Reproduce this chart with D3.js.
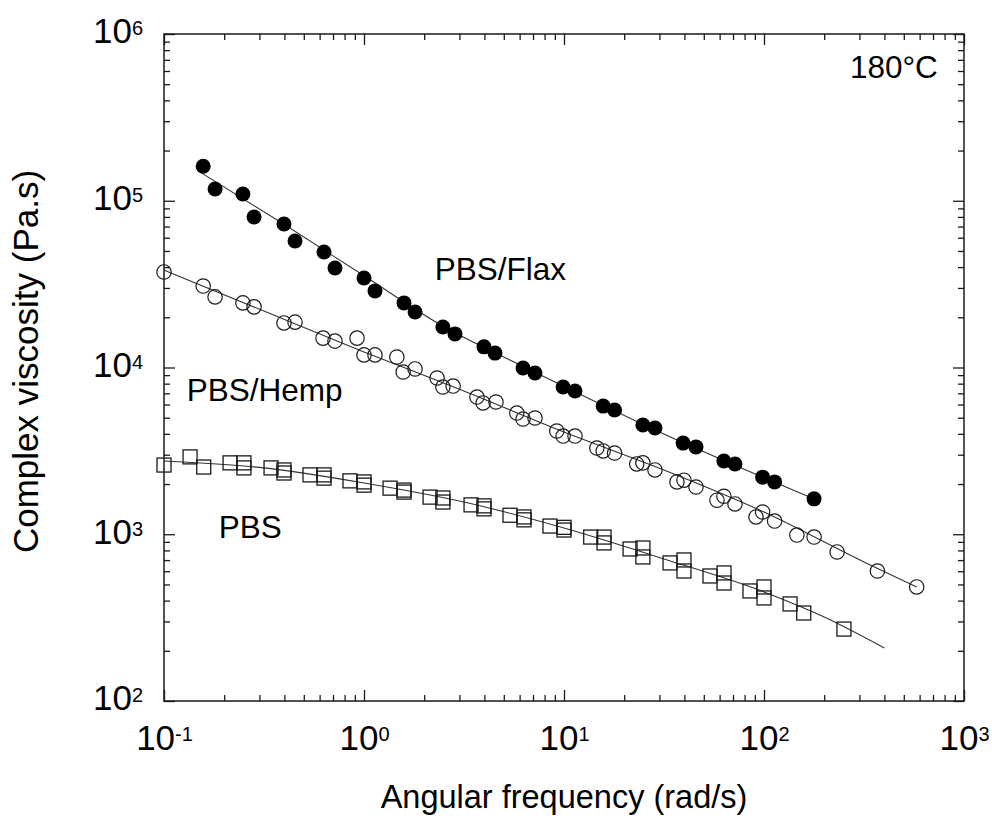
<!DOCTYPE html>
<html>
<head>
<meta charset="utf-8">
<script src="https://cdn.jsdelivr.net/npm/d3@7"></script>
<style>
  body { margin: 0; background: #fff; }
</style>
</head>
<body>
<div id="chart"></div>
<script>
// ---- data ----
// PBS/Flax (filled circles)
const flaxFreq = [0.157, 0.18, 0.248, 0.282, 0.398, 0.452, 0.631, 0.716, 1.0, 1.135,
  1.585, 1.8, 2.48, 2.85, 3.98, 4.52, 6.24, 7.16, 9.9, 11.35,
  15.7, 17.9, 24.8, 28.5, 39.4, 45.7, 63, 71.6, 98.4, 113, 178];
const flaxVisc = [161000, 117600, 109700, 79900, 72500, 57400, 49300, 39500, 34400, 28800,
  24400, 21500, 17500, 15900, 13300, 12200, 9930, 9270, 7640, 7230,
  5870, 5560, 4520, 4340, 3520, 3340, 2750, 2640, 2200, 2060, 1630];

// PBS/Hemp (open circles)
const hempFreq = [0.1, 0.157, 0.18, 0.248, 0.282, 0.398, 0.452, 0.624, 0.716, 0.923,
  1.0, 1.135, 1.46, 1.57, 1.8, 2.32, 2.48, 2.79, 3.67, 3.94,
  4.57, 5.81, 6.24, 7.16, 9.2, 9.9, 11.35, 14.6, 15.7, 17.9,
  23.1, 24.8, 28.5, 36.7, 39.8, 45.7, 58.2, 63, 71.6, 91.2,
  98.4, 113, 146, 178, 232, 369, 580];
const hempVisc = [37400, 30800, 26500, 24400, 23100, 18500, 18700, 15000, 14400, 15000,
  11900, 11900, 11560, 9400, 9800, 8650, 7640, 7740, 6650, 6130,
  6210, 5330, 4910, 4980, 4160, 3880, 3880, 3290, 3160, 3070,
  2640, 2680, 2430, 2060, 2110, 1920, 1600, 1690, 1520, 1270,
  1360, 1200, 989, 962, 783, 602, 483];

// PBS (open squares)
const pbsFreq = [0.1, 0.135, 0.158, 0.214, 0.251, 0.251, 0.343, 0.398, 0.398, 0.537,
  0.631, 0.631, 0.851, 1.0, 1.0, 1.35, 1.585, 1.585, 2.14, 2.48,
  2.48, 3.43, 3.98, 3.98, 5.37, 6.31, 6.31, 8.51, 10, 10,
  13.6, 15.85, 15.85, 21.4, 24.8, 24.8, 33.9, 39.8, 39.8, 53.7,
  63.1, 63.1, 85.1, 100, 100, 135, 158, 251];
const pbsVisc = [2600, 2910, 2530, 2680, 2680, 2500, 2500, 2430, 2330, 2270,
  2270, 2170, 2090, 2060, 1970, 1890, 1840, 1790, 1670, 1650,
  1560, 1500, 1480, 1420, 1300, 1270, 1220, 1120, 1100, 1060,
  962, 962, 887, 816, 827, 731, 673, 701, 602, 562,
  586, 510, 457, 483, 415, 382, 337, 270];

// fitted curves (thin lines), sampled from the figure
const flaxFitFreq = [0.155, 0.4, 1, 2.5, 6.3, 15.8, 39.8, 100, 178];
const flaxFitVisc = [146000, 72000, 35500, 17600, 10100, 5900, 3520, 2180, 1630];
const hempFitFreq = [0.1, 0.316, 1, 3.16, 10, 31.6, 100, 316, 580];
const hempFitVisc = [38400, 21800, 12400, 7230, 4100, 2430, 1360, 682, 483];
const pbsFitFreq = [0.1, 0.316, 1, 3.16, 10, 31.6, 100, 200, 400];
const pbsFitVisc = [2750, 2500, 2030, 1560, 1090, 711, 451, 319, 208];

// axes ticks and labels
const xMajor = [0.1, 1, 10, 100, 1000];
const yMajor = [100, 1000, 10000, 100000, 1000000];
const xTitle = "Angular frequency (rad/s)";
const yTitle = "Complex viscosity (Pa.s)";

// annotations: [text, freq, viscosity]
const labels = [
  ["PBS/Flax", 2.26, 33500],
  ["PBS/Hemp", 0.13, 6300],
  ["PBS", 0.188, 949],
  ["180°C", 269, 545000]
];

/**
 * Proportions
 */
let svgWidth = 992;
let svgHeight = 819;
let plotLeft = 164, plotRight = 964, plotTop = 34, plotBottom = 701;
let majorLen = 11, minorLen = 6;
let font = "Arial, 'Liberation Sans', sans-serif";
let ink = "#1a1a1a";

const x = d3.scaleLog().domain([0.1, 1000]).range([plotLeft, plotRight]);
const y = d3.scaleLog().domain([100, 1e6]).range([plotBottom, plotTop]);

const xMinor = x.ticks().filter(d => !xMajor.some(m => Math.abs(m - d) / m < 1e-6));
const yMinor = y.ticks().filter(d => !yMajor.some(m => Math.abs(m - d) / m < 1e-6));

const svg = d3.select("#chart")
  .append("svg")
  .attr("width", svgWidth)
  .attr("height", svgHeight)
  .style("background", "#fff");

// exponent label: "10" + superscript
function powerLabel(textSel, raise) {
  textSel.text(null);
  textSel.append("tspan").text("10");
  textSel.append("tspan")
    .attr("dy", raise)
    .attr("font-size", 20)
    .text(d => String(Math.round(Math.log10(d))));
}

function styleAxis(g) {
  g.select(".domain").remove();
  g.selectAll(".tick line").attr("stroke", ink).attr("stroke-width", 1.3);
  g.attr("font-family", font).attr("font-size", 35);
  g.selectAll(".tick text").attr("fill", "#000");
}

// bottom
svg.append("g")
  .attr("transform", `translate(0,${plotBottom})`)
  .call(d3.axisBottom(x).tickValues(xMajor).tickSizeInner(-majorLen).tickSizeOuter(0).tickPadding(24))
  .call(styleAxis)
  .call(g => g.selectAll(".tick text").call(powerLabel, "-0.45em"));
svg.append("g")
  .attr("transform", `translate(0,${plotBottom})`)
  .call(d3.axisBottom(x).tickValues(xMinor).tickSizeInner(-minorLen).tickSizeOuter(0).tickFormat(""))
  .call(styleAxis);

// top
svg.append("g")
  .attr("transform", `translate(0,${plotTop})`)
  .call(d3.axisTop(x).tickValues(xMajor).tickSizeInner(-majorLen).tickSizeOuter(0).tickFormat(""))
  .call(styleAxis);
svg.append("g")
  .attr("transform", `translate(0,${plotTop})`)
  .call(d3.axisTop(x).tickValues(xMinor).tickSizeInner(-minorLen).tickSizeOuter(0).tickFormat(""))
  .call(styleAxis);

// left
svg.append("g")
  .attr("transform", `translate(${plotLeft},0)`)
  .call(d3.axisLeft(y).tickValues(yMajor).tickSizeInner(-majorLen).tickSizeOuter(0).tickPadding(21))
  .call(styleAxis)
  .call(g => g.selectAll(".tick text").attr("dy", "0.25em").call(powerLabel, "-0.4em"));
svg.append("g")
  .attr("transform", `translate(${plotLeft},0)`)
  .call(d3.axisLeft(y).tickValues(yMinor).tickSizeInner(-minorLen).tickSizeOuter(0).tickFormat(""))
  .call(styleAxis);

// right
svg.append("g")
  .attr("transform", `translate(${plotRight},0)`)
  .call(d3.axisRight(y).tickValues(yMajor).tickSizeInner(-majorLen).tickSizeOuter(0).tickFormat(""))
  .call(styleAxis);
svg.append("g")
  .attr("transform", `translate(${plotRight},0)`)
  .call(d3.axisRight(y).tickValues(yMinor).tickSizeInner(-minorLen).tickSizeOuter(0).tickFormat(""))
  .call(styleAxis);

// frame
svg.append("rect")
  .attr("x", plotLeft)
  .attr("y", plotTop)
  .attr("width", plotRight - plotLeft)
  .attr("height", plotBottom - plotTop)
  .attr("fill", "none")
  .attr("stroke", ink)
  .attr("stroke-width", 1.5);

// axis titles
svg.append("text")
  .attr("x", (plotLeft + plotRight) / 2)
  .attr("y", 808)
  .attr("text-anchor", "middle")
  .attr("font-family", font)
  .attr("font-size", 32.5)
  .text(xTitle);
svg.append("text")
  .attr("transform", `translate(38,${(plotTop + plotBottom) / 2 - 6}) rotate(-90)`)
  .attr("text-anchor", "middle")
  .attr("font-family", font)
  .attr("font-size", 35)
  .text(yTitle);

// fit lines
const fitLine = d3.line()
  .x(d => x(d[0]))
  .y(d => y(d[1]))
  .curve(d3.curveMonotoneX);

const fits = [
  [flaxFitFreq, flaxFitVisc],
  [hempFitFreq, hempFitVisc],
  [pbsFitFreq, pbsFitVisc]
];
svg.append("g")
  .selectAll("path")
  .data(fits)
  .join("path")
  .attr("d", d => fitLine(d[0].map((f, i) => [f, d[1][i]])))
  .attr("fill", "none")
  .attr("stroke", "#333")
  .attr("stroke-width", 1.1);

// markers
const flaxData = flaxFreq.map((f, i) => [f, flaxVisc[i]]);
const hempData = hempFreq.map((f, i) => [f, hempVisc[i]]);
const pbsData = pbsFreq.map((f, i) => [f, pbsVisc[i]]);

svg.append("g")
  .selectAll("rect")
  .data(pbsData)
  .join("rect")
  .attr("x", d => x(d[0]) - 7)
  .attr("y", d => y(d[1]) - 7)
  .attr("width", 14)
  .attr("height", 14)
  .attr("fill", "none")
  .attr("stroke", ink)
  .attr("stroke-width", 1.3);

svg.append("g")
  .selectAll("circle")
  .data(hempData)
  .join("circle")
  .attr("cx", d => x(d[0]))
  .attr("cy", d => y(d[1]))
  .attr("r", 7.2)
  .attr("fill", "none")
  .attr("stroke", ink)
  .attr("stroke-width", 1.2);

svg.append("g")
  .selectAll("circle")
  .data(flaxData)
  .join("circle")
  .attr("cx", d => x(d[0]))
  .attr("cy", d => y(d[1]))
  .attr("r", 7.5)
  .attr("fill", "#000");

// annotations
svg.append("g")
  .selectAll("text")
  .data(labels)
  .join("text")
  .attr("x", d => x(d[1]))
  .attr("y", d => y(d[2]))
  .attr("font-family", font)
  .attr("font-size", 31.5)
  .attr("fill", "#000")
  .text(d => d[0]);
</script>
</body>
</html>
